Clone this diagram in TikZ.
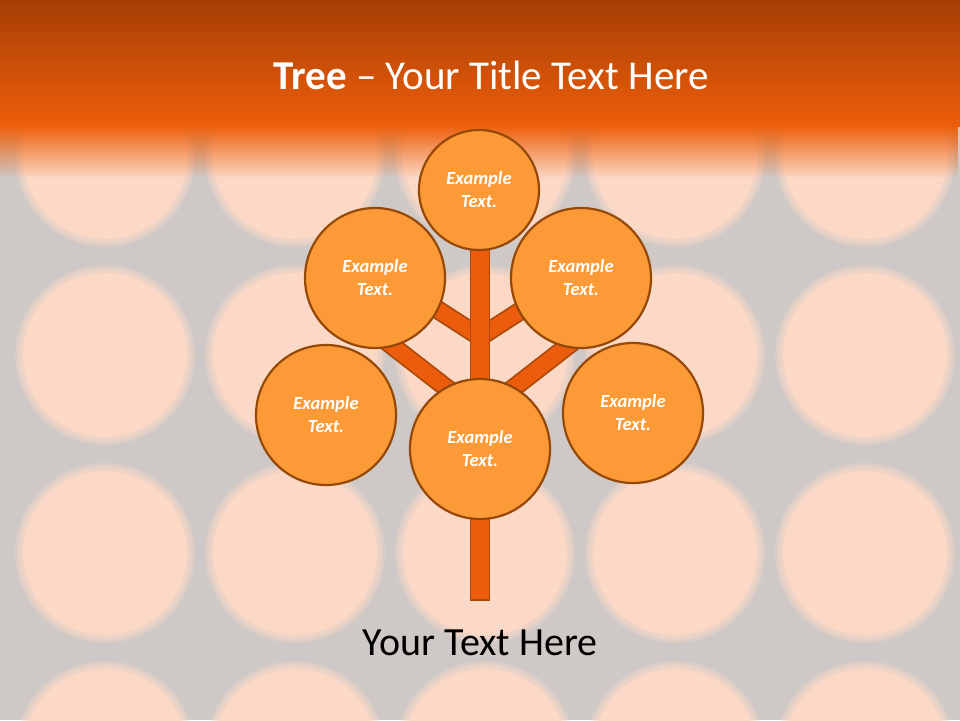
\documentclass[tikz,border=0pt]{standalone}
\usepackage{fontspec}
\setmainfont{Carlito}
\usetikzlibrary{fadings}
\definecolor{bgc}{HTML}{CEC9C6}
\definecolor{peach}{HTML}{FCD8C6}
\definecolor{hdtop}{HTML}{A63F05}
\definecolor{hdbot}{HTML}{EE5E0A}
\definecolor{orng}{HTML}{FD9A38}
\definecolor{brd}{HTML}{964807}
\definecolor{trunkc}{HTML}{EB5C0C}
\definecolor{trunkb}{HTML}{A84A0A}
\tikzset{
  leaf/.style={circle, draw=brd, line width=2.2pt, fill=orng, text=white,
    font=\fontsize{18.5}{23}\selectfont\bfseries\itshape, align=center, inner sep=0pt},
  branchedge/.style={draw=trunkb, line width=19pt},
  branchfill/.style={draw=trunkc, line width=15.5pt},
  trunkbox/.style={fill=trunkc, draw=trunkb, line width=1.8pt},
}
\begin{document}
\begin{tikzpicture}[x=1pt,y=-1pt]
\useasboundingbox (0,0) rectangle (960,720);
\begin{scope}
\clip (0,0) rectangle (960,720);
\fill[bgc] (0,0) rectangle (960,720);
\foreach \cx in {105,295,485,675,865}{
  \foreach \cy in {157,355,553,751}{
    \foreach \rr in {90,88,86,84}{\fill[peach,opacity=0.28] (\cx,\cy) circle (\rr);}
    \fill[peach] (\cx,\cy) circle (82);
  }}
\shade[top color=hdtop, bottom color=hdbot] (0,0) rectangle (960,126);
\fill[hdbot, path fading=south] (0,125) rectangle (960,178);
\end{scope}
\node[text=white, font=\fontsize{41}{50}\selectfont] (title) at (491,75) {\textbf{Tree} – Your Title Text Here};
% branch coordinates
\coordinate (a1) at (418,297);
\coordinate (a2) at (480,337);
\coordinate (b1) at (542,297);
\coordinate (b2) at (480,337);
\coordinate (c1) at (368,327);
\coordinate (c2) at (480,414);
\coordinate (d1) at (592,327);
\coordinate (d2) at (480,414);
\foreach \p/\q in {a1/a2,b1/b2,c1/c2,d1/d2}{\draw[branchedge] (\p) -- (\q);}
\foreach \p/\q in {a1/a2,b1/b2,c1/c2,d1/d2}{\draw[branchfill] (\p) -- (\q);}
\draw[trunkbox] (470.5,240) rectangle (489.5,600);
% leaves
\node[leaf, minimum size=120] (top) at (479,190) {Example\\Text.};
\node[leaf, minimum size=140] (ul) at (375,278) {Example\\Text.};
\node[leaf, minimum size=140] (ur) at (581,278) {Example\\Text.};
\node[leaf, minimum size=140] (l) at (326,415) {Example\\Text.};
\node[leaf, minimum size=140] (r) at (633,413) {Example\\Text.};
\node[leaf, minimum size=140] (bot) at (480,449) {Example\\Text.};
\node[text=black, font=\fontsize{40}{48}\selectfont] (cap) at (480,643) {Your Text Here};
\end{tikzpicture}
\end{document}
